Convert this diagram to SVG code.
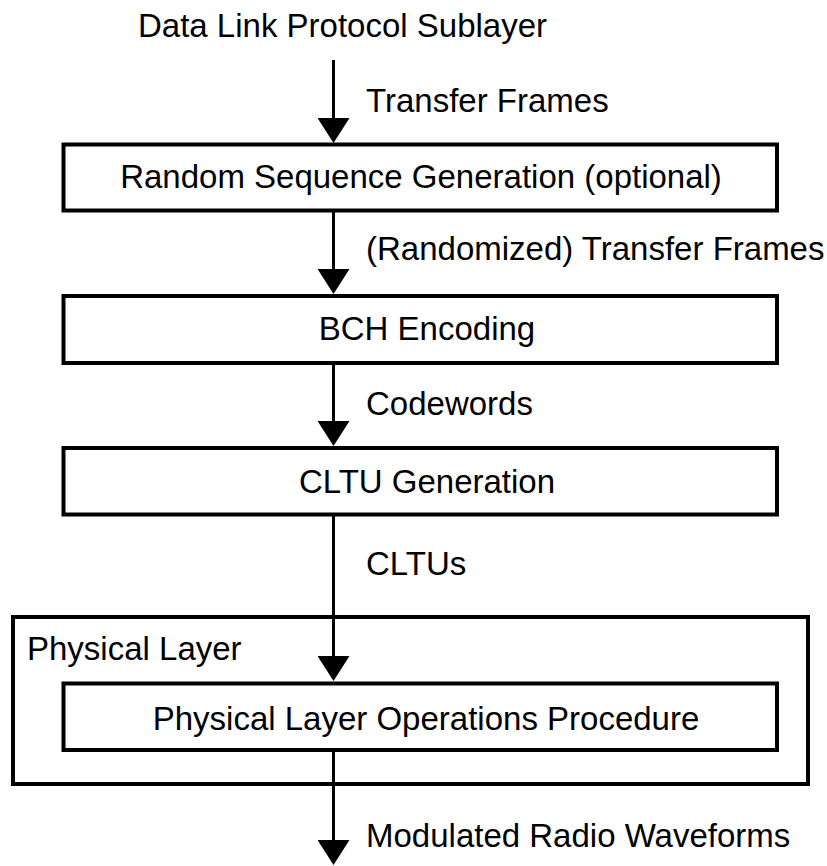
<svg xmlns="http://www.w3.org/2000/svg" width="827" height="866" viewBox="0 0 827 866">
<style>
text{font-family:"Liberation Sans",Arial,sans-serif;font-size:33px;fill:#000}
.box{fill:#fff;stroke:#000;stroke-width:4}
.grp{fill:none;stroke:#000;stroke-width:4}
.c{text-anchor:middle}
.conn{stroke:#000;stroke-width:3;fill:none}
</style>
<defs>
<marker id="ah" markerUnits="userSpaceOnUse" markerWidth="26" markerHeight="32" refX="21" refY="16" orient="auto" viewBox="0 0 26 32">
<path d="M0,0 L25,16 L0,32 Z" fill="#000"/>
</marker>
</defs>
<rect width="827" height="866" fill="#fff"/>
<g id="physical-layer">
<rect class="grp" x="13" y="617" width="795" height="167"/>
<text x="27" y="660">Physical Layer</text>
</g>
<g id="n-random">
<rect class="box" x="63.5" y="144.5" width="713.5" height="66"/>
<text class="c" x="421" y="188">Random Sequence Generation (optional)</text>
</g>
<g id="n-bch">
<rect class="box" x="63.5" y="296" width="713.5" height="67"/>
<text class="c" x="427" y="340">BCH Encoding</text>
</g>
<g id="n-cltu">
<rect class="box" x="63.5" y="448" width="713.5" height="66.5"/>
<text class="c" x="427" y="493">CLTU Generation</text>
</g>
<g id="n-plop">
<rect class="box" x="63.5" y="683.5" width="713.5" height="66.5"/>
<text class="c" x="426" y="730">Physical Layer Operations Procedure</text>
</g>
<g id="labels">
<text x="138" y="37">Data Link Protocol Sublayer</text>
<text x="366" y="112">Transfer Frames</text>
<text x="366" y="260">(Randomized) Transfer Frames</text>
<text x="366" y="415">Codewords</text>
<text x="366" y="575">CLTUs</text>
<text x="366" y="847">Modulated Radio Waveforms</text>
</g>
<g id="connectors">
<line class="conn" x1="333.5" y1="60" x2="333.5" y2="139" marker-end="url(#ah)"/>
<line class="conn" x1="333.5" y1="212" x2="333.5" y2="290" marker-end="url(#ah)"/>
<line class="conn" x1="333.5" y1="365" x2="333.5" y2="442" marker-end="url(#ah)"/>
<line class="conn" x1="333.5" y1="516" x2="333.5" y2="677" marker-end="url(#ah)"/>
<line class="conn" x1="333.5" y1="752" x2="333.5" y2="861" marker-end="url(#ah)"/>
</g>
</svg>
